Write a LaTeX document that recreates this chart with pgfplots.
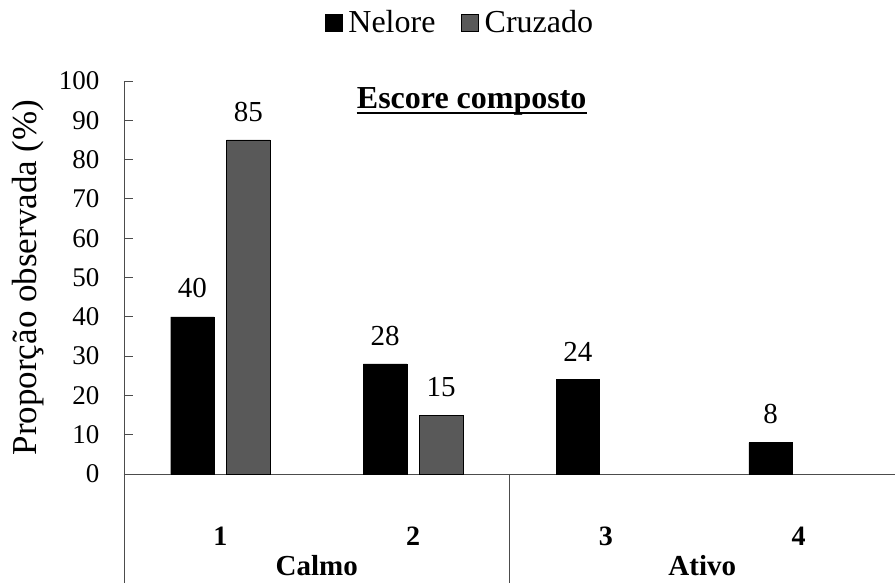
\documentclass[border=0pt]{standalone}
\usepackage{fontspec}
\setmainfont{Liberation Serif}
\usepackage{pgfplots}
\pgfplotsset{compat=1.18}
\definecolor{cruz}{HTML}{595959}
\begin{document}
\begin{tikzpicture}[font=\fontsize{27}{32}\selectfont]
\begin{axis}[
  scale only axis,
  width=771pt, height=393pt,
  xmin=0.5, xmax=4.5, ymin=0, ymax=100,
  axis x line*=bottom, axis y line*=left,
  axis line style={black!70, line width=0.9pt},
  ytick={0,10,...,100},
  tick align=inside,
  major tick length=9pt,
  ytick style={black!70, line width=0.9pt},
  xtick={1,2,3,4},
  xticklabels={\textbf{1},\textbf{2},\textbf{3},\textbf{4}},
  xtick style={draw=none},
  xticklabel style={anchor=base, yshift=-63pt, font=\fontsize{28}{32}\selectfont},
  /pgf/number format/assume math mode=true,
  yticklabel style={xshift=-21pt, font=\fontsize{27}{32}\selectfont},
  ylabel={Proporção observada (\%)},
  every axis y label/.style={at={(axis description cs:-0.1245,0.5)}, rotate=90, anchor=center, font=\fontsize{35}{40}\selectfont},
  ybar, bar width=0.225,
  clip=false,
  nodes near coords,
  every node near coord/.append style={yshift=15pt, font=\fontsize{29}{34}\selectfont},
  legend style={at={(rel axis cs:0.436,1.15)}, anchor=center, draw=none, legend columns=2,
    font=\fontsize{32}{38}\selectfont, inner sep=0pt,
    /tikz/every even column/.append style={column sep=24pt}},
  legend image code/.code={\draw[#1, draw=black] (0pt,-9pt) rectangle (17pt,8pt); \path[draw=none, fill=none] (0pt,0pt) -- (21pt,0pt);},
]
\addplot[fill=black, draw=black, bar shift=-0.145] coordinates {(1,40) (2,28) (3,24) (4,8)};
\addlegendentry{Nelore}
\addplot[fill=cruz, draw=black, bar shift=0.145] coordinates {(1,85) (2,15)};
\addlegendentry{Cruzado}
\node[font=\fontsize{32}{38}\selectfont\bfseries, anchor=base, inner sep=0pt] (T) at (rel axis cs:0.451,0.931) {Escore composto};
\draw[line width=2.6pt] ([yshift=-5pt]T.base west) -- ([yshift=-5pt]T.base east);
\draw[black!70, line width=0.9pt] (axis cs:0.5,0) -- ([yshift=-110pt]axis cs:0.5,0);
\draw[black!70, line width=0.9pt] (axis cs:2.5,0) -- ([yshift=-110pt]axis cs:2.5,0);
\node[font=\fontsize{29}{34}\selectfont\bfseries, anchor=base, inner sep=0pt] at ([yshift=-102pt]axis cs:1.5,0) {Calmo};
\node[font=\fontsize{29}{34}\selectfont\bfseries, anchor=base, inner sep=0pt] at ([yshift=-102pt]axis cs:3.5,0) {Ativo};
\end{axis}
\pgfresetboundingbox
\path[use as bounding box] (-124pt,-109pt) rectangle (771pt,474pt);
\end{tikzpicture}
\end{document}
